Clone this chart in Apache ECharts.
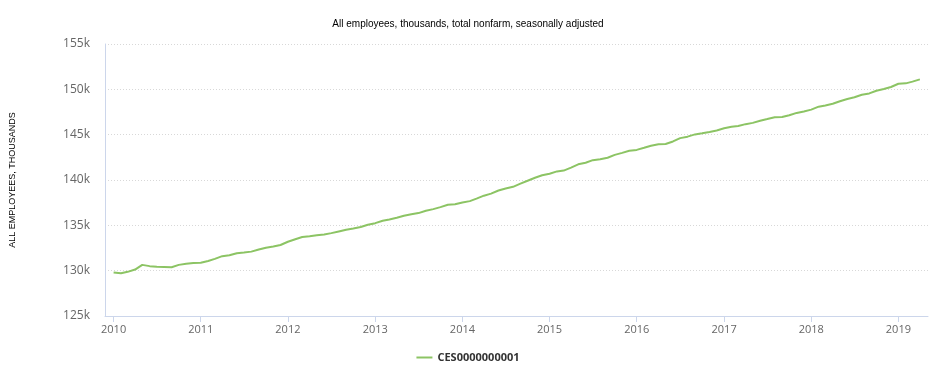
<!DOCTYPE html>
<html>
<head>
<meta charset="utf-8">
<script src="https://cdn.jsdelivr.net/npm/echarts@6/dist/echarts.min.js"></script>
<style>
  html, body { margin: 0; padding: 0; background: #fff; }
  #chart { width: 936px; height: 376px; }
</style>
</head>
<body>
<div id="chart"></div>
<script>
// monthly values, thousands, Jan 2010 .. Apr 2019
const startYear = 2010
const seriesName = 'CES0000000001'
const employees = [
    // 2010
    129.80, 129.71, 129.87, 130.12, 130.64, 130.50, 130.42, 130.41, 130.37, 130.64, 130.77, 130.84,
    // 2011
    130.88, 131.07, 131.30, 131.60, 131.71, 131.93, 132.00, 132.10, 132.33, 132.53, 132.66, 132.83,
    // 2012
    133.19, 133.47, 133.71, 133.80, 133.90, 133.99, 134.14, 134.33, 134.52, 134.66, 134.81, 135.06,
    // 2013
    135.24, 135.51, 135.65, 135.84, 136.05, 136.23, 136.35, 136.60, 136.79, 137.01, 137.27, 137.32,
    // 2014
    137.51, 137.67, 137.94, 138.27, 138.50, 138.84, 139.07, 139.25, 139.60, 139.92, 140.25, 140.52,
    // 2015
    140.69, 140.95, 141.04, 141.37, 141.73, 141.91, 142.19, 142.28, 142.45, 142.77, 142.99, 143.23,
    // 2016
    143.32, 143.55, 143.78, 143.94, 143.97, 144.25, 144.62, 144.78, 145.03, 145.16, 145.30, 145.46,
    // 2017
    145.70, 145.88, 145.96, 146.16, 146.30, 146.53, 146.72, 146.93, 146.95, 147.14, 147.40, 147.56,
    // 2018
    147.76, 148.09, 148.22, 148.41, 148.69, 148.94, 149.13, 149.41, 149.55, 149.84, 150.03, 150.26,
    // 2019
    150.62, 150.66, 150.85, 151.10
]
const yTicks = [125000, 130000, 135000, 140000, 145000, 150000, 155000]

const data = employees.map((v, i) => [
    Date.UTC(startYear + Math.floor(i / 12), i % 12, 1),
    Math.round(v * 1000)
])

const year = 365.25 * 24 * 3600 * 1000
const chart = echarts.init(document.getElementById('chart'))
chart.setOption({
    useUTC: true,
    animation: false,
    title: {
        text: 'All employees, thousands, total nonfarm, seasonally adjusted',
        left: 'center',
        top: 14,
        textStyle: {
            fontFamily: 'Liberation Sans',
            fontSize: 10,
            fontWeight: 'normal',
            color: '#000'
        }
    },
    legend: {
        bottom: 8,
        left: 'center',
        icon: 'rect',
        itemWidth: 16,
        itemHeight: 2,
        itemGap: 6,
        textStyle: {
            fontFamily: 'Open Sans',
            fontSize: 11,
            fontWeight: 'bold',
            color: '#333'
        },
        data: [seriesName]
    },
    grid: {
        left: 103,
        right: 8,
        top: 44,
        bottom: 60
    },
    xAxis: {
        type: 'time',
        min: Date.UTC(2009, 10, 26),
        max: Date.UTC(2019, 4, 5),
        minInterval: year,
        maxInterval: year,
        axisLine: { lineStyle: { color: '#ccd6eb', width: 1 } },
        axisTick: { show: true, length: 6, lineStyle: { color: '#ccd6eb' } },
        axisLabel: {
            formatter: '{yyyy}',
            color: '#666',
            fontFamily: 'Open Sans',
            fontSize: 11,
            margin: 8
        },
        splitLine: { show: false }
    },
    yAxis: {
        type: 'value',
        min: yTicks[0],
        max: yTicks[yTicks.length - 1],
        interval: 5000,
        name: 'ALL EMPLOYEES, THOUSANDS',
        nameLocation: 'middle',
        nameGap: 88,
        nameTextStyle: {
            fontFamily: 'Liberation Sans',
            fontSize: 9,
            color: '#000'
        },
        axisLine: { show: true, lineStyle: { color: '#ccd6eb', width: 1 } },
        axisTick: { show: false },
        axisLabel: {
            formatter: v => v / 1000 + 'k',
            color: '#666',
            fontFamily: 'Open Sans',
            fontSize: 12,
            margin: 15
        },
        splitLine: {
            lineStyle: { color: '#d8d8d8', type: [1, 2] }
        }
    },
    series: [{
        name: seriesName,
        type: 'line',
        data: data,
        showSymbol: false,
        lineStyle: { color: '#8cc464', width: 2 },
        itemStyle: { color: '#8cc464' }
    }]
})
</script>
</body>
</html>
